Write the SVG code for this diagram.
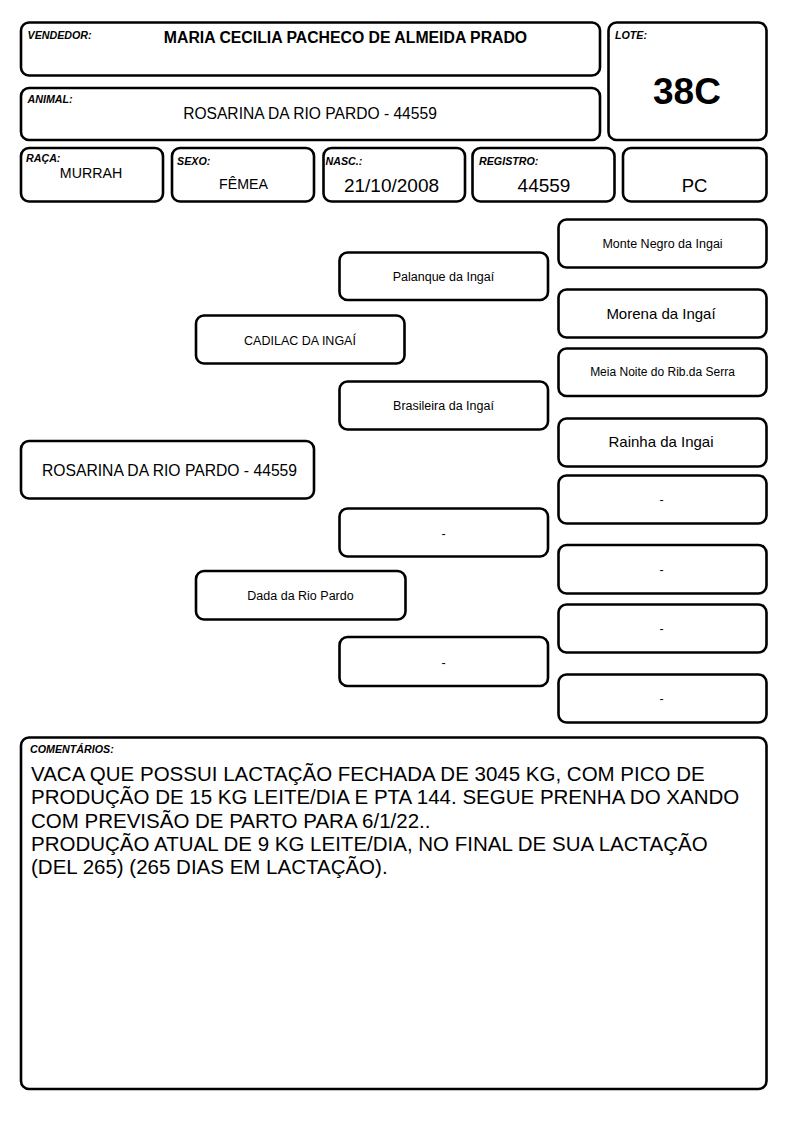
<svg xmlns="http://www.w3.org/2000/svg" width="794" height="1123" viewBox="0 0 794 1123">
<style>
.box{fill:#fff;stroke:#000;stroke-width:2.6}
text{font-family:"Liberation Sans",Arial,sans-serif;fill:#000}
.lbl{font-size:10.7px;font-weight:bold;font-style:italic}
.c{text-anchor:middle}
.p{font-size:12.5px;text-anchor:middle}
.pl{font-size:15px;text-anchor:middle}
.cm{font-size:20.5px}
</style>
<rect width="794" height="1123" fill="#fff"/>
<g id="vendedor">
<rect class="box" x="21" y="22.5" width="579" height="53" rx="8"/>
<text class="lbl" x="27.5" y="39">VENDEDOR:</text>
<text class="c" x="345.5" y="43" font-size="15.8" font-weight="bold">MARIA CECILIA PACHECO DE ALMEIDA PRADO</text>
</g>
<g id="animal">
<rect class="box" x="21" y="88" width="579" height="52" rx="8"/>
<text class="lbl" x="27.5" y="102.5">ANIMAL:</text>
<text class="c" x="310" y="119" font-size="15.6">ROSARINA DA RIO PARDO - 44559</text>
</g>
<g id="lote">
<rect class="box" x="608.5" y="22.5" width="158" height="117.5" rx="8"/>
<text class="lbl" x="615" y="39">LOTE:</text>
<text class="c" x="687" y="104" font-size="37" font-weight="bold">38C</text>
</g>
<g id="raca">
<rect class="box" x="21" y="148" width="142" height="53.5" rx="8"/>
<text class="lbl" x="26" y="162">RAÇA:</text>
<text class="c" x="91" y="178" font-size="14.2">MURRAH</text>
</g>
<g id="sexo">
<rect class="box" x="172" y="148" width="142" height="53.5" rx="8"/>
<text class="lbl" x="177" y="165">SEXO:</text>
<text class="c" x="243.5" y="189" font-size="14.2">FÊMEA</text>
</g>
<g id="nasc">
<rect class="box" x="323.5" y="148" width="141.5" height="53.5" rx="8"/>
<text class="lbl" x="325.5" y="165">NASC.:</text>
<text class="c" x="391.5" y="192.3" font-size="19">21/10/2008</text>
</g>
<g id="registro">
<rect class="box" x="472.5" y="148" width="142" height="53.5" rx="8"/>
<text class="lbl" x="479" y="165">REGISTRO:</text>
<text class="c" x="544" y="192.3" font-size="19">44559</text>
</g>
<g id="pc">
<rect class="box" x="623" y="148" width="143.5" height="53.5" rx="8"/>
<text class="c" x="694.5" y="192.3" font-size="18.5">PC</text>
</g>
<g id="connectors"></g>
<g id="animal-node">
<rect class="box" x="21" y="441" width="293" height="57.5" rx="8"/>
<text class="c" x="169.5" y="476" font-size="15.7">ROSARINA DA RIO PARDO - 44559</text>
</g>
<g id="sire">
<rect class="box" x="196" y="315.5" width="208.5" height="48" rx="8"/>
<text class="p" x="300" y="345">CADILAC DA INGAÍ</text>
</g>
<g id="dam">
<rect class="box" x="196" y="571" width="209.5" height="48.5" rx="8"/>
<text class="p" x="300.5" y="600">Dada da Rio Pardo</text>
</g>
<g id="sire-sire">
<rect class="box" x="339.5" y="252.5" width="208.5" height="47.5" rx="8"/>
<text class="p" x="443.5" y="281">Palanque da Ingaí</text>
</g>
<g id="sire-dam">
<rect class="box" x="339.5" y="381.5" width="208.5" height="48" rx="8"/>
<text class="p" x="443.5" y="410">Brasileira da Ingaí</text>
</g>
<g id="dam-sire">
<rect class="box" x="339.5" y="508.5" width="208.5" height="48" rx="8"/>
<text class="p" x="443.5" y="537.5">-</text>
</g>
<g id="dam-dam">
<rect class="box" x="339.5" y="637" width="208.5" height="49" rx="8"/>
<text class="p" x="443.5" y="666.5">-</text>
</g>
<g id="ss-sire">
<rect class="box" x="558.5" y="219.5" width="208" height="48" rx="8"/>
<text class="p" x="662.5" y="247.5">Monte Negro da Ingai</text>
</g>
<g id="ss-dam">
<rect class="box" x="558.5" y="289.5" width="208" height="48" rx="8"/>
<text class="pl" x="661" y="319">Morena da Ingaí</text>
</g>
<g id="sd-sire">
<rect class="box" x="558.5" y="348.5" width="208" height="47.5" rx="8"/>
<text class="c" x="662.5" y="376" font-size="12">Meia Noite do Rib.da Serra</text>
</g>
<g id="sd-dam">
<rect class="box" x="558.5" y="418.5" width="208" height="48" rx="8"/>
<text class="pl" x="661" y="447">Rainha da Ingai</text>
</g>
<g id="ds-sire">
<rect class="box" x="558.5" y="475.5" width="208" height="48" rx="8"/>
<text class="p" x="661.5" y="504">-</text>
</g>
<g id="ds-dam">
<rect class="box" x="558.5" y="545" width="208" height="48.5" rx="8"/>
<text class="p" x="661.5" y="574">-</text>
</g>
<g id="dd-sire">
<rect class="box" x="558.5" y="604.5" width="208" height="48" rx="8"/>
<text class="p" x="661.5" y="633">-</text>
</g>
<g id="dd-dam">
<rect class="box" x="558.5" y="674.5" width="208" height="48" rx="8"/>
<text class="p" x="661.5" y="703">-</text>
</g>
<g id="comentarios">
<rect class="box" x="21" y="737.5" width="745.5" height="351.5" rx="8"/>
<text class="lbl" x="30" y="752.5">COMENTÁRIOS:</text>
<text class="cm" x="31" y="781">VACA QUE POSSUI LACTAÇÃO FECHADA DE 3045 KG, COM PICO DE</text>
<text class="cm" x="31" y="804">PRODUÇÃO DE 15 KG LEITE/DIA E PTA 144. SEGUE PRENHA DO XANDO</text>
<text class="cm" x="31" y="827.5">COM PREVISÃO DE PARTO PARA 6/1/22..</text>
<text class="cm" x="31" y="850.5">PRODUÇÃO ATUAL DE 9 KG LEITE/DIA, NO FINAL DE SUA LACTAÇÃO</text>
<text class="cm" x="31" y="873.5">(DEL 265) (265 DIAS EM LACTAÇÃO).</text>
</g>
</svg>
